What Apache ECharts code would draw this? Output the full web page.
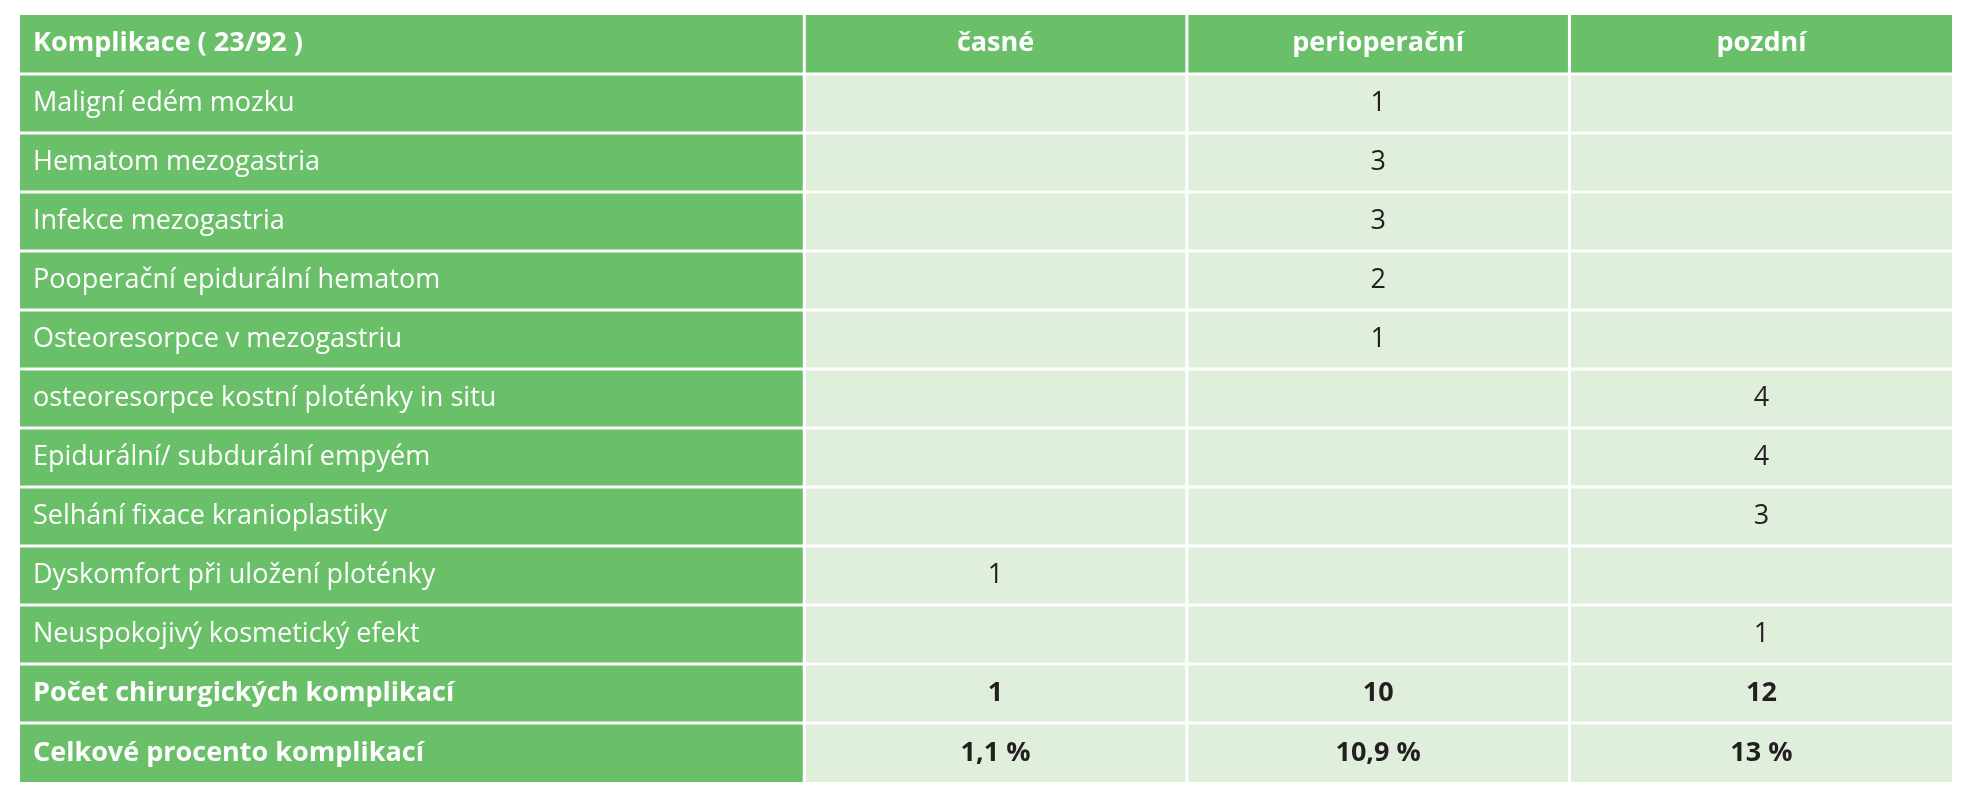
<!DOCTYPE html>
<html><head><meta charset="utf-8">
<script src="https://cdn.jsdelivr.net/npm/echarts@6/dist/echarts.min.js"></script>
<style>html,body{margin:0;padding:0;background:#fff}#c{width:1975px;height:800px}</style>
</head><body><div id="c"></div>
<script>
const headers = ['Komplikace ( 23/92 )', 'časné', 'perioperační', 'pozdní'];
const complications = ['Maligní edém mozku','Hematom mezogastria','Infekce mezogastria','Pooperační epidurální hematom','Osteoresorpce v mezogastriu','osteoresorpce kostní ploténky in situ','Epidurální/ subdurální empyém','Selhání fixace kranioplastiky','Dyskomfort při uložení ploténky','Neuspokojivý kosmetický efekt','Počet chirurgických komplikací','Celkové procento komplikací'];
const early = ['','','','','','','','','1','','1','1,1 %'];
const periop = ['1','3','3','2','1','','','','','','10','10,9 %'];
const late = ['','','','','','4','4','3','','1','12','13 %'];
const boldRows = ['Počet chirurgických komplikací','Celkové procento komplikací'];

const colEdges = [0, 2.05, 3.05, 4.05, 5.05];
const rows = ['h'].concat(complications);
const data = [];
headers.forEach((h,c)=>data.push([c,0,h,'head']));
complications.forEach((name,i)=>{
  const b = boldRows.includes(name);
  data.push([0,i+1,name,b?'labB':'lab']);
  [early,periop,late].forEach((arr,k)=>data.push([k+1,i+1,arr[i],b?'valB':'val']));
});
const chart = echarts.init(document.getElementById('c'));
chart.setOption({
  animation:false,
  grid:{left:20,right:23,top:15,bottom:18},
  xAxis:{type:'value',min:0,max:5.05,show:false},
  yAxis:{type:'category',data:rows.map((r,i)=>i),inverse:true,show:false},
  series:[{
    type:'custom',
    data:data,
    renderItem:(params,api)=>{
      const c=api.value(0), r=api.value(1), txt=data[params.dataIndex][2], kind=data[params.dataIndex][3];
      const p0=api.coord([colEdges[c],r]), p1=api.coord([colEdges[c+1],r]);
      const h=api.size([0,1])[1];
      const x=p0[0]+(c>0?1.5:0), w=p1[0]-p0[0]-(c>0?1.5:0)-(c<3?1.5:0);
      const y=p0[1]-h/2+(r>0?1.5:0), hh=h-(r>0?1.5:0)-(r<12?1.5:0);
      const green = (kind==='head'||c===0);
      const left = c===0;
      const bold = kind==='head'||kind==='labB'||kind==='valB';
      return {type:'group',children:[
        {type:'rect',shape:{x:x,y:y,width:w,height:hh},style:{fill:green?'#6abf69':'#e0efdc'}},
        {type:'text',style:{text:txt,x:left?x+13:x+w/2,y:y+hh/2,align:left?'left':'center',verticalAlign:'middle',
          fill:green?'#ffffff':'#231f20',font:(bold?'bold ':'')+'27px "Open Sans", sans-serif'}}
      ]};
    }
  }]
});
</script></body></html>
